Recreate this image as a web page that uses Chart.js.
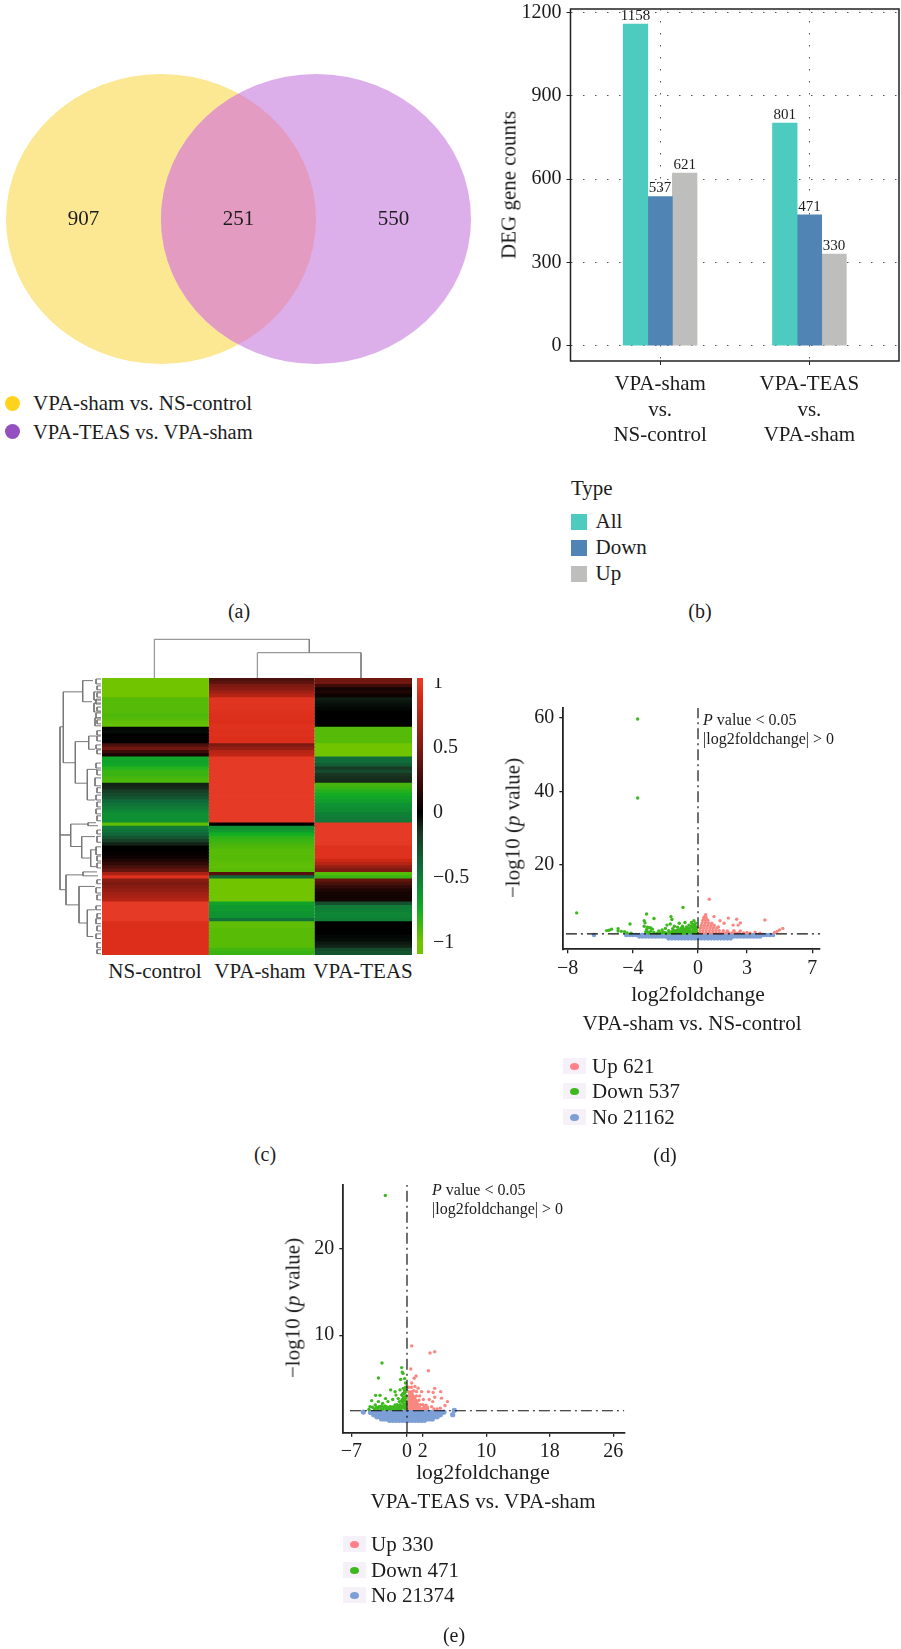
<!DOCTYPE html>
<html><head><meta charset="utf-8">
<script src="https://cdn.jsdelivr.net/npm/chart.js@4/dist/chart.umd.min.js"></script>
<style>
html,body{margin:0;padding:0;background:#fff}
#page{position:relative;width:901px;height:1649px;overflow:hidden;background:#fff;font-family:"Liberation Serif",serif;color:#1c1c1c}
canvas{position:absolute;display:block}
.t{position:absolute;white-space:nowrap;transform:translate(-50%,-50%);line-height:1}
.l{position:absolute;white-space:nowrap;transform:translateY(-50%);line-height:1}
.r{position:absolute;white-space:nowrap;transform:translate(-50%,-50%) rotate(-90deg);line-height:1}
.s{position:absolute}
</style></head><body><div id="page"></div>
<script>
// ---------- (a) Venn ----------
const vennSets=['VPA-sham vs. NS-control','VPA-TEAS vs. VPA-sham'];
const vennCounts=[907,251,550];
const vennCountPos=[-2,0,2];
const vennCentres=[-1,1,0];
// ---------- (b) DEG bars ----------
const degCategories=[['VPA-sham','vs.','NS-control'],['VPA-TEAS','vs.','VPA-sham']];
const degTypes=['All','Down','Up'];
const degAll=[1158,801];
const degDown=[537,471];
const degUp=[621,330];
const degTicks=[0,300,600,900,1200];
// ---------- (c) Heatmap ----------
const heatColumns=['NS-control','VPA-sham','VPA-TEAS'];
const columnSpan=[107,105.6,97.7];
const heatNS=[-1,-1,-1,-1,-1,-1,-.92,-.92,-.92,-.92,-.92,-.9,-.92,-.95,-.97,-.02,-.03,0,0,0,.3,.45,.25,.1,-.72,-.7,-.72,-.8,-.85,-.85,-.88,-.9,-.1,-.12,-.2,-.25,-.3,-.4,-.45,-.5,-.55,-.6,-.6,-.6,-.95,-.5,-.45,-.4,-.3,-.2,-.1,0,0,.02,.05,.12,.2,.3,.4,.7,.95,.55,.5,.55,.6,.65,.7,.75,1,1,1,1,1,1,.93,.93,.93,.93,.93,.93,.93,.93,.93,.93];
const heatSham=[.3,.38,.5,.55,.65,.75,.97,.97,.96,.96,.95,.94,.93,.93,.95,.95,.94,.95,.93,.93,.5,.6,.75,.8,1,1,1,1,1,1,1,1,1,1,1,1,1,1,1,1,1,1,1,1,0,-.6,-.65,-.75,-.82,-.85,-.88,-.9,-.92,-.93,-.92,-.93,-.94,-.95,-.93,.35,-.4,-1,-1,-1,-1,-1,-1,-1,-.7,-.65,-.65,-.62,-.62,-.45,-.95,-.95,-.93,-.93,-.93,-.93,-.93,-.93,-.87,-.85];
const heatTeas=[.45,.45,.25,.08,.12,.05,-.08,-.06,-.04,-.02,0,0,0,0,0,-.92,-.92,-.92,-.92,-.92,-1,-1,-1,-1,-.42,-.42,-.35,-.18,-.25,-.15,-.13,-.12,-.88,-.85,-.8,-.75,-.72,-.68,-.62,-.6,-.58,-.52,-.5,-.48,1,1,1,1,1,1,1,.95,.95,.95,.95,.85,.75,.6,.5,-.92,-.85,.4,.3,.2,.12,.08,.07,.08,-.28,-.5,-.52,-.55,-.55,-.52,0,0,0,0,-.02,-.03,-.07,-.1,-.25,-.3];
const heatBarTicks=[-1,-.5,0,.5,1];
// dendrograms: merge height, top member, bottom member, height of each member
const rowMergeHeight=[41,41,37.7,18.3,25.7,12.3,13.7,30.3,13,19.3,10.3,35,18,22,13.7];
const rowMergeTop=[14.8,47.6,4.2,.8,19.3,17.6,27.7,44.3,43.9,48.1,52.1,59.7,58.8,63.2,70.3];
const rowMergeBottom=[64.2,47.6,25.7,7.2,31.9,21.6,37,51.1,44.8,54.6,57.2,68.8,60,74.3,78.4];
const rowChildTop=[37.7,30.3,18.3,8,12.3,4.3,3.7,13,5,6,4,18,4,6,6];
const rowChildBottom=[35,30.3,25.7,9,13.7,6,6,19.3,3,10.3,5,22,3,13.7,7.7];
const rowTwigHeight=[5,4,7,4,5,7,4,5,6,4,4,4,5,4,5,4,6,4,5,4,5,4,4,4,5,4,4,4,5,4,5,4,5,4,5,4,4];
const rowTwigTop=[.3,2.4,4.2,4.5,6.4,7.6,8.8,10.6,12.1,12.7,16,17.6,20.3,21.8,25.8,27.9,30.3,33.3,35.5,37.6,39.7,41.8,46.1,48,51.2,54,56.1,61.2,63.6,65.8,69.1,71.5,73,75.2,77.6,80.3,82.4];
const rowTwigBottom=[1.8,3.6,6.7,5.8,7.9,10.3,10,12.1,14.5,13.9,17.3,19.1,21.5,23,27.3,29.4,32.7,34.8,37,39.1,41.2,43.3,47.3,49.8,53.6,55.5,57.6,62.4,65.2,67.3,70.3,72.7,74.5,76.7,79,81.8,83.6];
const colTreeX=[52.3,52.3,207.3,207.3,null,155.3,155.3,259,259];
const colTreeY=[0,38.7,38.7,25.3,null,0,25.3,25.3,0];
// ---------- (d) Volcano VPA-sham vs NS-control ----------
const volcanoDXTicks=[-8,-4,0,3,7];
const volcanoDYTicks=[20,40,60];
const downD=[[-7.44,7],[-3.7,59.6],[-3.7,38.2],[-5.6,2.2],[-5.45,2.3],[-5.3,2.6],[-4.9,2.7],[-4.9,2.1],[-4.7,2],[-4.5,1.9],[-4.35,1.6],[-4.17,4],[-4.1,1.5],[-3.15,6.7],[-3.3,4.9],[-3.25,4.3],[-3.3,3.4],[-3.1,3.1],[-3.15,2.5],[-3.2,1.9],[-2.7,5.5],[-1.66,6],[-1.6,5.2],[-.92,8.5],
[-3,1.5],[-2.9,2],[-2.8,2.6],[-3.1,1.9],[-3,3],[-2.9,2.9],[-2.7,1.7],[-2.5,1.5],[-2.4,2.1],[-2.3,1.6],[-2.2,2.4],[-2.1,1.8],[-2,2.8],[-1.95,1.5],[-1.9,3.7],[-1.8,2.2],[-1.75,1.6],[-1.7,4],[-1.6,1.9],[-1.55,2.7],[-1.5,1.5],[-1.45,3.4],[-1.4,2.2],[-1.3,1.7],[-1.25,3.1],[-1.2,2.4],[-1.15,4.2],[-1.1,1.6],[-1.05,2.8],[-1,2],[-.95,3.4],[-.9,1.5],[-.85,2.6],[-.8,4.4],[-.75,1.9],[-.7,3.2],[-.65,2.3],[-.6,1.6],[-.55,3.7],[-.5,2.7],[-.45,1.9],[-.4,4.4],[-.35,3.1],[-.3,2.2],[-.28,1.6],[-.25,4.9],[-.2,3.6],[-.18,2.6],[-.15,1.8],[-.12,3.2],[-.1,2.3],[-.08,1.5],[-.06,2.9],[-.3,3.9],
[-2.2,1.6],[-2,1.6],[-1.8,1.6],[-1.6,1.6],[-1.4,1.6],[-1.2,1.6],[-1,1.6],[-.8,1.6],[-.6,2.1],[-.4,1.6],[-.2,1.6],[-1.5,2.1],[-1.3,2.2],[-1.1,2.2],[-.9,2.2],[-.7,2.7],[-.5,2.2],[-.3,2.7],[-.1,1.7],[-.9,2.8],[-.6,2.9],[-.4,3.4],[-.2,3],[-.15,4.2]];
const upD=[[.69,10.7],[.47,6.5],[.98,6],[1.35,4.9],[1.86,5.6],[2.37,5.3],[2.6,4.3],[2.15,3.7],[2.46,3.7],[4.1,5.1],[4.7,1.7],[4.85,2],[5,2.4],[5.2,2.8],[3,1.7],[3.5,1.8],[1.25,3.2],[1.6,4.2],
[.1,1.6],[.3,1.6],[.5,1.6],[.7,1.6],[.9,1.6],[1.1,1.6],[1.3,1.6],[1.5,1.6],[1.7,1.6],[1.9,1.6],[2.1,1.6],[2.3,1.6],[2.5,1.6],[2.8,1.6],[3.2,1.5],[3.8,1.5],
[.12,2.2],[.3,2.2],[.5,2.2],[.7,2.2],[.9,2.2],[1.1,2.2],[1.3,2.2],[1.55,2.2],[1.8,2.1],[2.2,2.2],[2.6,2.1],
[.15,2.9],[.35,2.9],[.55,2.9],[.75,2.9],[.95,2.9],[1.15,2.9],
[.2,3.6],[.4,3.6],[.6,3.6],[.8,3.6],[1,3.6],
[.25,4.3],[.45,4.3],[.65,4.3],[.85,4.2],
[.3,5],[.45,5],[.6,5],[.35,5.7],[.5,5.7],[.42,6.1]];
const noD=[[-6.38,1],
[-4.4,1],[-4.2,1],[-4,1],[-3.8,1],[-3.6,1],[-3.4,1],[-3.2,1],[-3,1],[-2.8,1],[-2.6,1],[-2.4,1],[-2.2,1],[-2,1],[-1.8,1],[-1.6,1],[-1.4,1],[-1.2,1],[-1,1],[-.8,1],[-.6,1],[-.4,1],[-.2,1],[0,1],[.2,1],[.4,1],[.6,1],[.8,1],[1,1],[1.2,1],[1.4,1],[1.6,1],[1.8,1],[2,1],[2.2,1],[2.4,1],[2.6,1],[2.8,1],[3,1],[3.2,1],[3.4,1],[3.6,1],[3.8,1],[4,1],[4.2,1],[4.4,1],[4.6,1],
[-3.6,.6],[-3.4,.6],[-3.2,.6],[-3,.6],[-2.8,.6],[-2.6,.6],[-2.4,.6],[-2.2,.6],[-2,.6],[-1.8,.6],[-1.6,.6],[-1.4,.6],[-1.2,.6],[-1,.6],[-.8,.6],[-.6,.6],[-.4,.6],[-.2,.6],[0,.6],[.2,.6],[.4,.6],[.6,.6],[.8,.6],[1,.6],[1.2,.6],[1.4,.6],[1.6,.6],[1.8,.6],[2,.6],[2.2,.6],[2.4,.6],[2.6,.6],[2.8,.6],[3,.6],[3.2,.6],[3.4,.6],[3.6,.6],[3.8,.6],
[-1.8,.1],[-1.6,.1],[-1.4,.1],[-1.2,.1],[-1,.1],[-.8,.1],[-.6,.1],[-.4,.1],[-.2,.1],[0,.1],[.2,.1],[.4,.1],[.6,.1],[.8,.1],[1,.1],[1.2,.1],[1.4,.1],[1.6,.1],[1.8,.1],[2,.1]];
// ---------- (e) Volcano VPA-TEAS vs VPA-sham ----------
const volcanoEXTicks=[-7,0,2,10,18,26];
const volcanoEYTicks=[10,20];
const downE=[[-2.73,26.1],[-3.15,6.8],[-3.6,5.07],[-.67,6.27],[-.6,5.75],[-.5,5.6],[-.8,4.9],[-.3,5],[-2.06,3.7],[-1.5,3.5],[-1.39,3.1],[-.88,3.7],[-.46,3.88],[-.67,3.1],[-3.95,3.07],[-3.4,3.07],[-4.45,2.46],[-3.6,2.35],[-2.7,2.7],[-3.07,2.15],[-2.4,2.35],[-1.8,2.6],[-1.1,2.7],[-4.66,1.77],[-4,1.96],[-3.4,1.77],[-2.77,1.85],[-2.1,1.77],[-1.5,1.96],[-.97,2.35],[-.46,2.9],[-.33,3.3],[-.17,4],[-.2,4.5],[-.2,3.5],[-.15,3],[-.3,2.6],[-.15,2.4],[-.5,2.2],[-.3,2],[-.15,1.9],[-.6,1.8],[-.4,1.6],[-.2,1.55],[-.9,1.7],[-1.2,1.7],[-.8,1.5],[-1.1,1.5],[-1.4,1.5],[-1.7,1.55],[-2,1.5],[-2.3,1.5],[-2.6,1.5],[-3,1.5],[-3.3,1.5],[-3.7,1.5],[-4.1,1.5],[-4.8,1.45],[-.7,2.4],[-.85,2],
[-.45,2.5],[-.5,3.3],[-.3,3.6],[-.1,3.6],[-.1,2.8],[-.1,2.1],[-.6,2.6],[-.4,1.9],[-.75,1.75],[-1,1.9],[-1.25,2],[-1.6,1.75],[-1.85,1.75],[-2.2,1.7],[-2.5,1.75],[-2.9,1.7],[-3.2,1.85],[-3.55,1.75],[-3.85,1.7],[-4.35,1.7]];
const upE=[[.6,8.77],[2.9,7.95],[3.5,8.1],[2.7,5.9],[.48,6.1],[1.15,5.3],[.9,5.04],[.6,4.5],[1,4.1],[1.4,3.9],[1.85,3.5],[3.5,3.88],[2.7,3.5],[4.25,3.5],[3.3,3.4],[2.06,2.6],[2.8,2.6],[3.25,2.35],[3.5,2.85],[4.35,2.75],[5.1,2.35],[4.8,1.9],[4.2,1.6],[3.1,1.77],
[.2,1.55],[.5,1.55],[.8,1.55],[1.1,1.55],[1.4,1.55],[1.7,1.55],[2,1.55],[2.3,1.55],[2.6,1.55],[3.4,1.5],[3.8,1.5],[.2,2],[.5,2],[.8,2],[1.1,2],[1.4,2],[1.7,2],[2,2],[2.4,1.95],[.2,2.5],[.5,2.5],[.8,2.5],[1.1,2.5],[1.5,2.5],[.2,3],[.5,3],[.8,3],[1.2,3],[1.6,3],[.2,3.5],[.55,3.5],[.85,3.6],[1.2,3.5],[.2,4],[.55,4],
[.35,1.75],[.65,1.75],[.95,1.75],[1.25,1.75],[1.55,1.75],[.35,2.25],[.65,2.25],[.95,2.25],[1.25,2.25],[.35,2.75],[.65,2.75],[.95,2.75],[.35,3.25],[.65,3.25],[2.55,1.75],[2.2,1.8]];
const noE=[[-5.5,1.15],[5.97,1.35],[5.76,.85],[4.67,1.15],
[-4.6,1.1],[-4.2,1.1],[-3.8,1.1],[-3.4,1.1],[-3,1.1],[-2.6,1.1],[-2.2,1.1],[-1.8,1.1],[-1.4,1.1],[-1,1.1],[-.6,1.1],[-.2,1.1],[.2,1.1],[.6,1.1],[1,1.1],[1.4,1.1],[1.8,1.1],[2.2,1.1],[2.6,1.1],[3,1.1],[3.4,1.1],[3.8,1.1],[4.2,1.1],[4.4,1.1],
[-4.2,.85],[-3.8,.85],[-3.4,.85],[-3,.85],[-2.6,.85],[-2.2,.85],[-1.8,.85],[-1.4,.85],[-1,.85],[-.6,.85],[-.2,.85],[.2,.85],[.6,.85],[1,.85],[1.4,.85],[1.8,.85],[2.2,.85],[2.6,.85],[3,.85],[3.4,.85],[3.8,.85],[4.2,.85],
[-3.8,.6],[-3.4,.6],[-3,.6],[-2.6,.6],[-2.2,.6],[-1.8,.6],[-1.4,.6],[-1,.6],[-.6,.6],[-.2,.6],[.2,.6],[.6,.6],[1,.6],[1.4,.6],[1.8,.6],[2.2,.6],[2.6,.6],[3,.6],[3.4,.6],[3.8,.6],
[-3.2,.35],[-2.8,.35],[-2.4,.35],[-2,.35],[-1.6,.35],[-1.2,.35],[-.8,.35],[-.4,.35],[0,.35],[.4,.35],[.8,.35],[1.2,.35],[1.6,.35],[2,.35],[2.4,.35],[2.8,.35],[3.2,.35],
[-2.2,.2],[-1.8,.2],[-1.4,.2],[-1,.2],[-.6,.2],[-.2,.2],[.2,.2],[.6,.2],[1,.2],[1.4,.2],[1.8,.2],[2.2,.2]];
const significanceLevel=1.3;

// ---------- helpers ----------
const SERIF='"Liberation Serif", serif', INK='#1c1c1c';
Chart.defaults.font.family=SERIF; Chart.defaults.color=INK; Chart.defaults.animation=false;
Chart.defaults.plugins.legend.display=false; Chart.defaults.plugins.tooltip.enabled=false;
const page=document.getElementById('page');
function mk(x,y,w,h){const c=document.createElement('canvas');c.width=w;c.height=h;c.style.left=x+'px';c.style.top=y+'px';c.style.width=w+'px';c.style.height=h+'px';page.appendChild(c);return c;}
function txt(cls,html,x,y,size){const d=document.createElement('div');d.className=cls;d.innerHTML=html;d.style.left=x+'px';d.style.top=y+'px';d.style.fontSize=size+'px';page.appendChild(d);return d;}
function box(x,y,w,h,bg,round){const d=document.createElement('div');d.className='s';d.style.cssText+=`left:${x}px;top:${y}px;width:${w}px;height:${h}px;background:${bg};`+(round?'border-radius:50%;':'');page.appendChild(d);}
const fixedTicks=v=>s=>{s.ticks=v.map(value=>({value}));};
const minus=v=>String(v).replace('-','\u2212');
const xy=p=>({x:p[0],y:p[1]});
// fix an axis' thickness and drop the margin it asks for around its end labels
const fitY=w=>s=>{s.width=w;s.paddingTop=0;s.paddingBottom=0;};
const fitX=h=>s=>{s.height=h;s.paddingLeft=0;s.paddingRight=0;};

// ---------- Venn ----------
const RX=155,RY=145,GAP=155;
function ell(ctx,cx,cy){ctx.beginPath();ctx.ellipse(cx,cy,RX,RY,0,0,Math.PI*2);}
function setImg(col){const c=document.createElement('canvas');c.width=RX*2;c.height=RY*2;const g=c.getContext('2d');g.fillStyle=col;ell(g,RX,RY);g.fill();return c;}
function lensImg(col){const c=document.createElement('canvas');c.width=RX*2+GAP;c.height=RY*2;const g=c.getContext('2d');ell(g,RX,RY);g.clip();g.fillStyle=col;ell(g,RX+GAP,RY);g.fill();return c;}
const vennStyles=[setImg('#FCE793'),setImg('#DCAEEA'),lensImg('#E49BC1')];
new Chart(mk(0,59,477,320),{type:'scatter',
 data:{datasets:vennCentres.map((x,i)=>({data:[{x,y:0}],pointStyle:vennStyles[i],pointRadius:5,clip:false,order:3-i}))},
 options:{responsive:false,layout:{padding:0,autoPadding:false},scales:{x:{display:false,min:-3.077,max:3.077},y:{display:false,min:-1,max:1}}},
 plugins:[{id:'vennCounts',afterDatasetsDraw(ch){const c=ch.ctx;c.save();c.font='21px '+SERIF;c.fillStyle=INK;c.textAlign='center';c.textBaseline='middle';
  vennCounts.forEach((v,i)=>c.fillText(String(v),ch.scales.x.getPixelForValue(vennCountPos[i]),ch.scales.y.getPixelForValue(0)));c.restore();}}]});
[['#FFD21E',403,21],['#9450C0',431.5,20.5]].forEach((r,i)=>{box(5,r[1]-7.5,15,15,r[0],true);txt('l',vennSets[i],33,r[1],r[2]);});
txt('t','(a)',239,611,20);

// ---------- Bars ----------
const degColors=['#4ECBBF','#4F84B4','#BEBEBC'];
new Chart(mk(500,0,401,460),{type:'bar',
 data:{datasets:[degAll,degDown,degUp].map((s,i)=>({label:degTypes[i],data:s.map((y,x)=>({x,y})),backgroundColor:degColors[i],barThickness:24.6}))},
 options:{responsive:false,layout:{padding:{top:9,right:2},autoPadding:false},
  scales:{
   x:{type:'linear',offset:false,min:-.6,max:1.6,afterBuildTicks:fixedTicks([0,1]),afterFit:fitX(99),
      grid:{offset:false,color:'#555',lineWidth:1,tickColor:'#222',tickLength:4},border:{display:false,dash:[1.5,10.5]},
      ticks:{autoSkip:false,maxRotation:0,padding:7,color:INK,font:{size:21,lineHeight:'25.5px'},callback:v=>degCategories[v]}},
   y:{min:-55,max:1212,afterBuildTicks:fixedTicks(degTicks),afterFit:fitY(70.5),
      grid:{color:'#555',lineWidth:1,tickColor:'#222',tickLength:4},border:{display:false,dash:[1.5,10.5]},
      ticks:{padding:5,color:INK,font:{size:20},callback:v=>String(v)}}}},
 plugins:[{id:'barFrameAndLabels',
  afterDatasetsDraw(ch){const c=ch.ctx,a=ch.chartArea;c.save();c.strokeStyle='#222';c.lineWidth=1.5;c.strokeRect(a.left,a.top,a.right-a.left,a.bottom-a.top);
   c.font='15px '+SERIF;c.fillStyle=INK;c.textAlign='center';c.textBaseline='bottom';
   ch.data.datasets.forEach((d,i)=>ch.getDatasetMeta(i).data.forEach((b,j)=>c.fillText(String(d.data[j].y),b.x,b.y-0.5)));c.restore();}}]});
txt('r','DEG gene counts',509,184.6,21);
txt('l','Type',571,488,21);
degTypes.forEach((t,i)=>{const y=[522,548,573.5][i];box(571,y-8,16,16,degColors[i]);txt('l',t,595.5,y-1,21);});
txt('t','(b)',700,611,20);

// ---------- Heatmap ----------
const heatStops=[[-1,[112,196,0]],[-.9,[78,184,10]],[-.75,[18,172,37]],[-.6,[15,143,52]],[-.4,[16,105,58]],[-.15,[26,53,34]],[0,[0,0,0]],[.5,[124,26,18]],[.9,[216,42,22]],[1,[228,58,38]]];
function heatColor(z){z=Math.max(-1,Math.min(1,z));for(let i=1;i<heatStops.length;i++){const [a,ca]=heatStops[i-1],[b,cb]=heatStops[i];if(z<=b){const t=(z-a)/(b-a);return `rgb(${ca.map((v,k)=>Math.round(v+(cb[k]-v)*t)).join(',')})`;}}return 'rgb(228,58,38)';}
const heatRows=heatNS.map((_,i)=>'row'+i);
new Chart(mk(102,678,310,277),{type:'bar',
 data:{labels:heatRows,datasets:[heatNS,heatSham,heatTeas].map((z,c)=>({label:heatColumns[c],data:z.map(()=>columnSpan[c]),backgroundColor:z.map(heatColor),borderWidth:0,barPercentage:1,categoryPercentage:1.4}))},
 options:{indexAxis:'y',responsive:false,layout:{padding:0,autoPadding:false},scales:{x:{display:false,stacked:true,min:0,max:columnSpan.reduce((a,b)=>a+b,0)},y:{display:false,stacked:true}}}});
heatColumns.forEach((n,i)=>txt('t',n,[155,260,363][i],971,21));

// colour bar
new Chart(mk(417,678,63,276),{type:'bar',
 data:{labels:['z'],datasets:[{data:[[-1.09,1.04]],borderWidth:0,barPercentage:1,categoryPercentage:1,
   backgroundColor(ctx){const ch=ctx.chart,a=ch.chartArea;if(!a)return '#000';const y=ch.scales.y,g=ch.ctx.createLinearGradient(0,a.top,0,a.bottom);
     const clampStop=v=>(y.getPixelForValue(v)-a.top)/(a.bottom-a.top);
     heatStops.forEach(s=>g.addColorStop(clampStop(s[0]),`rgb(${s[1].join(',')})`));return g;}}]},
 options:{responsive:false,layout:{padding:0,autoPadding:false},scales:{x:{display:false},
   y:{position:'right',min:-1.09,max:1.04,afterBuildTicks:fixedTicks(heatBarTicks),afterFit:fitY(57),grid:{display:false,drawTicks:false},border:{display:false},
      ticks:{padding:10,color:INK,font:{size:20},callback:minus}}}}});

// dendrograms
const rowTree=[];
rowMergeHeight.forEach((h,i)=>{rowTree.push({x:rowChildTop[i],y:rowMergeTop[i]},{x:h,y:rowMergeTop[i]},{x:h,y:rowMergeBottom[i]},{x:rowChildBottom[i],y:rowMergeBottom[i]},{x:null,y:null});});
rowTwigHeight.forEach((h,i)=>{rowTree.push({x:0,y:rowTwigTop[i]},{x:h,y:rowTwigTop[i]},{x:h,y:rowTwigBottom[i]},{x:0,y:rowTwigBottom[i]},{x:null,y:null});});
new Chart(mk(55,678,46,277),{type:'scatter',
 data:{datasets:[{data:rowTree,showLine:true,spanGaps:false,borderColor:'#777',borderWidth:1,pointRadius:0}]},
 options:{responsive:false,layout:{padding:0,autoPadding:false},scales:{x:{display:false,reverse:true,min:0,max:46},y:{display:false,reverse:true,min:0,max:84}}}});
new Chart(mk(102,632,310,46),{type:'scatter',
 data:{datasets:[{data:colTreeX.map((x,i)=>({x,y:colTreeY[i]})),showLine:true,spanGaps:false,borderColor:'#808080',borderWidth:1,pointRadius:0}]},
 options:{responsive:false,layout:{padding:0,autoPadding:false},scales:{x:{display:false,min:0,max:310},y:{display:false,min:0,max:46}}}});
txt('t','(c)',265,1154,20);

// ---------- Volcanos ----------
const RED='#F98781',GRN='#3DB81E',BLU='#7C9FD6';
function volcano(cfg){
 const a=cfg.area,left=a.left-cfg.x,top=a.top-cfg.y;
 const line=(xs,ys)=>({data:xs.map((x,i)=>({x,y:ys[i]})),showLine:true,borderColor:'#111',borderWidth:1.2,borderDash:[11,4,2,4],pointRadius:0,order:0});
 const axis=(extra)=>Object.assign({grid:{drawOnChartArea:false,tickColor:'#222',tickLength:4,lineWidth:1.3},border:{color:'#222',width:1.8}},extra);
 new Chart(mk(cfg.x,cfg.y,cfg.w,cfg.h),{type:'scatter',
  data:{datasets:[
   {label:'No',data:cfg.no.map(xy),backgroundColor:BLU,borderWidth:0,pointRadius:cfg.noR,order:3},
   {label:'Down',data:cfg.down.map(xy),backgroundColor:GRN,borderWidth:0,pointRadius:1.7,order:2},
   {label:'Up',data:cfg.up.map(xy),backgroundColor:RED,borderWidth:0,pointRadius:1.7,order:1},
   line(cfg.hx,[significanceLevel,significanceLevel]),
   line([0,0],[cfg.ymin,cfg.ymax])]},
  options:{responsive:false,layout:{padding:{top,right:cfg.x+cfg.w-a.right},autoPadding:false},
   scales:{
    x:axis({min:cfg.xmin,max:cfg.xmax,afterBuildTicks:fixedTicks(cfg.xt),afterFit:fitX(cfg.y+cfg.h-a.bottom),ticks:{autoSkip:false,maxRotation:0,padding:3,color:INK,font:{size:20},callback:minus}}),
    y:axis({min:cfg.ymin,max:cfg.ymax,afterBuildTicks:fixedTicks(cfg.yt),afterFit:fitY(left),ticks:{padding:5,color:INK,font:{size:20}}})}}});
}
volcano({x:500,y:700,w:340,h:285,area:{left:563.3,right:820,top:708,bottom:949.3},xmin:-8.26,xmax:7.48,ymin:-2.87,ymax:62.6,xt:volcanoDXTicks,yt:volcanoDYTicks,no:noD,down:downD,up:upD,noR:2.3,hx:[-8.1,7.48]});
volcano({x:280,y:1177,w:360,h:285,area:{left:343.3,right:624.3,top:1185,bottom:1432.7},xmin:-8.03,xmax:27.4,ymin:-1.23,ymax:27.3,xt:volcanoEXTicks,yt:volcanoEYTicks,no:noE,down:downE,up:upE,noR:2.6,hx:[-7.2,27.4]});

function volcanoLegend(sx,tx,ys,labels){const cols=['#FF808A',GRN,BLU];
 labels.forEach((t,i)=>{box(sx,ys[i]-8.3,23,16.6,'#F6F1F8');box(sx+7,ys[i]-3.5,9,7,cols[i],true);txt('l',t,tx,ys[i],21);});}
txt('r','\u2212log10 (<i>p</i> value)',513,828,21);
txt('l','<i>P</i> value &lt; 0.05',703,720,16);
txt('l','|log2foldchange| &gt; 0',703,739,16);
txt('t','log2foldchange',698,995,21.5);
txt('t','VPA-sham vs. NS-control',692,1023,21);
volcanoLegend(563,592,[1066,1091,1117],['Up 621','Down 537','No 21162']);
txt('t','(d)',665,1155,20);

txt('r','\u2212log10 (<i>p</i> value)',293,1308,21);
txt('l','<i>P</i> value &lt; 0.05',432,1190,16);
txt('l','|log2foldchange| &gt; 0',432,1209,16);
txt('t','log2foldchange',483,1473,21.5);
txt('t','VPA-TEAS vs. VPA-sham',483,1501,21);
volcanoLegend(343,371,[1544,1570,1595],['Up 330','Down 471','No 21374']);
txt('t','(e)',454,1635,20);
</script></body></html>
